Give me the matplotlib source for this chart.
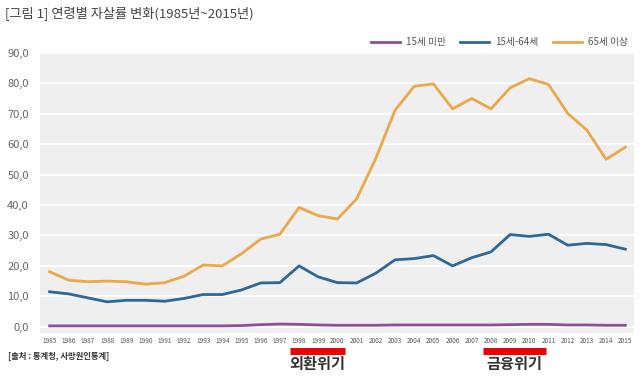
import matplotlib.pyplot as plt

plt.rcParams['font.family'] = ['Noto Sans CJK KR', 'DejaVu Sans']

years = list(range(1985, 2016))
under15 = [0.3, 0.3, 0.3, 0.3, 0.3, 0.3, 0.3, 0.3, 0.3, 0.3, 0.4, 0.7, 0.9, 0.8, 0.6, 0.5,
           0.5, 0.5, 0.6, 0.6, 0.6, 0.6, 0.6, 0.6, 0.7, 0.8, 0.8, 0.6, 0.6, 0.5, 0.5]
age15_64 = [11.5, 10.8, 9.5, 8.2, 8.7, 8.7, 8.4, 9.3, 10.6, 10.6, 12.1, 14.4, 14.5, 20.0, 16.4, 14.5,
            14.4, 17.6, 22.0, 22.4, 23.4, 20.0, 22.7, 24.6, 30.3, 29.7, 30.4, 26.8, 27.4, 27.0, 25.5]
age65_over = [18.1, 15.3, 14.8, 15.0, 14.8, 14.0, 14.5, 16.6, 20.3, 20.0, 24.0, 28.8, 30.4, 39.2, 36.5, 35.4,
              42.0, 55.3, 71.1, 79.0, 79.8, 71.6, 75.0, 71.6, 78.5, 81.5, 79.6, 70.1, 64.6, 55.0, 59.0]

series_names = ['15세 미만', '15세-64세', '65세 이상']
series_colors = ['#8e4f9a', '#2f6799', '#e9a84c']

fig = plt.figure(figsize=(6.4, 3.8), dpi=100)
ax = fig.add_axes([0.0625, 0.124, 0.928, 0.737])
ax.set_facecolor('#efefef')

for vals, name, col in zip([under15, age15_64, age65_over], series_names, series_colors):
    ax.plot(years, vals, color=col, lw=2, label=name)

ax.set_xlim(1984.5, 2015.45)
ax.set_ylim(-2, 90)
ax.set_yticks(range(0, 91, 10))
ax.set_yticklabels([f'{v},0' for v in range(0, 91, 10)], fontsize=8, color='#666666')
ax.set_xticks(years)
ax.set_xticklabels([str(y) for y in years], fontsize=4.6, color='#555555')
ax.tick_params(length=0, pad=3)
ax.tick_params(axis='y', pad=8)
ax.grid(axis='y', color='white', lw=1.2)
ax.set_axisbelow(True)
for s in ax.spines.values():
    s.set_visible(False)

ax.legend(loc='lower right', bbox_to_anchor=(1.0, 1.0), ncol=3, frameon=False,
          fontsize=7, handlelength=3, columnspacing=1.5, handletextpad=0.6,
          labelcolor='#555555', borderaxespad=0.2)

fig.text(0.008, 0.965, '[그림 1] 연령별 자살률 변화(1985년~2015년)', fontsize=9.5,
         color='#444444', va='center')

fig.text(0.012, 0.063, '[출처 : 통계청, 사망원인통계]', fontsize=6, color='#333333',
         va='center', fontweight='bold')

# crisis markers
trans = ax.get_xaxis_transform()
for x0, x1, label in [(1997.55, 2000.4, '외환위기'), (2007.6, 2010.85, '금융위기')]:
    ax.plot([x0, x1], [-0.065, -0.065], transform=trans, color='#ee0000', lw=5,
            solid_capstyle='butt', clip_on=False)
    ax.text((x0 + x1) / 2, -0.112, label, transform=trans, ha='center', va='center',
            fontsize=11, fontweight='bold', color='#333333')

fig.savefig('out.png', dpi=100, facecolor='white')
